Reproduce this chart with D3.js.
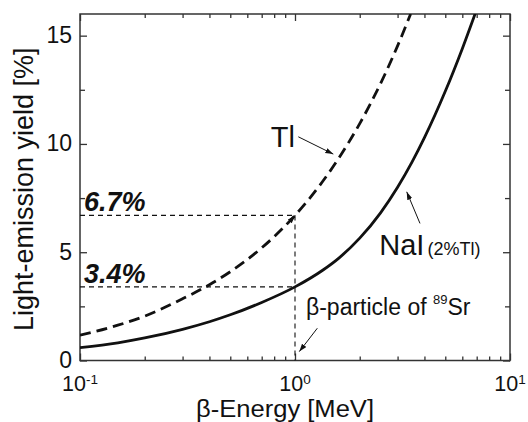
<!DOCTYPE html>
<html><head><meta charset="utf-8">
<script src="https://cdn.jsdelivr.net/npm/d3@7"></script>
<style>
body{margin:0;background:#fff}
svg{display:block}
text{font-family:"Liberation Sans",Arial,Helvetica,sans-serif;fill:#111}
</style>
</head><body>
<svg id="c" width="528" height="422"></svg>
<script>
// ---- data ----
const naiEnergy = [0.1, 0.15, 0.2, 0.3, 0.4, 0.5, 0.7, 1.0, 1.35, 1.6, 2.0, 2.5, 3.0, 3.5, 4.0, 5.0, 6.0, 7.0];
const naiYield  = [0.59, 0.815, 1.04, 1.44, 1.79, 2.11, 2.68, 3.4, 4.18, 4.73, 5.65, 6.82, 8.0, 9.16, 10.29, 12.43, 14.4, 16.21];
const tlEnergy  = [0.1, 0.15, 0.2, 0.3, 0.4, 0.5, 0.7, 1.0, 1.3, 1.6, 2.0, 2.5, 3.0, 3.45];
const tlYield   = [1.17, 1.63, 2.05, 2.85, 3.5, 4.1, 5.2, 6.7, 8.07, 9.35, 10.94, 12.79, 14.53, 16.0];

const xMajorTicks = [0.1, 1, 10];
const xTickExponents = ["-1", "0", "1"];
const xMinorTicks = [0.2,0.3,0.4,0.5,0.6,0.7,0.8,0.9,2,3,4,5,6,7,8,9];
const yMajorTicks = [0, 5, 10, 15];
const yMinorTicks = [2.5, 7.5, 12.5];

const markEnergy = 1.0;
const markYields = [6.7, 3.4];
const markLabels = ["6.7%", "3.4%"];

// annotation anchors in data units [energy, yield]
const tlLabelAt   = [0.771, 9.87];
const naiLabelAt  = [2.466, 4.87];
const betaLabelAt = [1.125, 2.10];
const arrows = [
  [[1.036, 10.33], [1.507, 9.53]],
  [[3.814, 6.33], [3.308, 7.79]],
  [[1.27, 1.49], [1.047, 0.41]],
  [[0.95, 6.45], [1.0, 6.7]]
];

// ---- layout ----
const pL = 80, pR = 510, pT = 14, pB = 360.5;
const svg = d3.select("#c");
const x = d3.scaleLog().domain([0.1, 10]).range([pL, pR]);
const y = d3.scaleLinear().domain([0, 16]).range([pB, pT]);
const ink = "#111", axisInk = "#333";

const defs = svg.append("defs");
defs.append("clipPath").attr("id", "plot")
  .append("rect").attr("x", pL).attr("y", pT).attr("width", pR - pL).attr("height", pB - pT);
defs.append("marker").attr("id", "ah")
  .attr("markerUnits", "userSpaceOnUse")
  .attr("markerWidth", 10).attr("markerHeight", 8)
  .attr("refX", 8).attr("refY", 3).attr("orient", "auto")
  .append("path").attr("d", "M0,0.3 L8,3 L0,5.7 Z").attr("fill", ink);

function styleAxis(g) {
  g.select(".domain").remove();
  g.selectAll(".tick line").attr("stroke", axisInk).attr("stroke-width", 1.3);
}
svg.append("g").attr("transform", `translate(0,${pB})`)
  .call(d3.axisBottom(x).tickValues(xMajorTicks).tickSize(-7).tickFormat("")).call(styleAxis);
svg.append("g").attr("transform", `translate(0,${pB})`)
  .call(d3.axisBottom(x).tickValues(xMinorTicks).tickSize(-4).tickFormat("")).call(styleAxis);
svg.append("g").attr("transform", `translate(0,${pT})`)
  .call(d3.axisTop(x).tickValues(xMajorTicks).tickSize(-7).tickFormat("")).call(styleAxis);
svg.append("g").attr("transform", `translate(0,${pT})`)
  .call(d3.axisTop(x).tickValues(xMinorTicks).tickSize(-4).tickFormat("")).call(styleAxis);

const yAxis = svg.append("g").attr("transform", `translate(${pL},0)`)
  .call(d3.axisLeft(y).tickValues(yMajorTicks).tickSize(-7).tickPadding(8).tickFormat(d3.format("d")))
  .call(styleAxis);
yAxis.selectAll("text").attr("font-size", 23).attr("fill", ink)
  .attr("font-family", '"Liberation Sans",Arial,sans-serif').attr("dy", "0.3em");
svg.append("g").attr("transform", `translate(${pL},0)`)
  .call(d3.axisLeft(y).tickValues(yMinorTicks).tickSize(-5).tickFormat("")).call(styleAxis);
svg.append("g").attr("transform", `translate(${pR},0)`)
  .call(d3.axisRight(y).tickValues(yMajorTicks).tickSize(-7).tickFormat("")).call(styleAxis);
svg.append("g").attr("transform", `translate(${pR},0)`)
  .call(d3.axisRight(y).tickValues(yMinorTicks).tickSize(-5).tickFormat("")).call(styleAxis);

svg.append("rect").attr("x", pL).attr("y", pT).attr("width", pR - pL).attr("height", pB - pT)
  .attr("fill", "none").attr("stroke", axisInk).attr("stroke-width", 1.5);

const xl = svg.append("g");
xMajorTicks.forEach((v, i) => {
  const t = xl.append("text").attr("x", x(v)).attr("y", 391).attr("text-anchor", "middle").attr("font-size", 21.5);
  t.append("tspan").text("10");
  t.append("tspan").attr("font-size", 13.5).attr("dy", -7.5).text(xTickExponents[i]);
});

svg.append("text").attr("x", 285).attr("y", 417).attr("text-anchor", "middle")
  .attr("font-size", 23).attr("textLength", 178).attr("lengthAdjust", "spacingAndGlyphs")
  .text("β-Energy [MeV]");
svg.append("text").attr("transform", `translate(33,${(pT + pB) / 2 + 2}) rotate(-90)`)
  .attr("text-anchor", "middle").attr("font-size", 27).text("Light-emission yield [%]");

const ref = svg.append("g").attr("stroke", ink).attr("stroke-width", 1.1).attr("stroke-dasharray", "5,4").attr("fill", "none");
markYields.forEach(v => {
  ref.append("line").attr("x1", x(0.1)).attr("x2", x(markEnergy)).attr("y1", y(v)).attr("y2", y(v));
});
ref.append("line").attr("x1", x(markEnergy)).attr("x2", x(markEnergy))
  .attr("y1", y(d3.max(markYields))).attr("y2", y(0));

markYields.forEach((v, i) => {
  svg.append("text").attr("x", x(0.1) + 4).attr("y", y(v) - 4)
    .attr("font-size", 27).attr("font-weight", "bold").attr("font-style", "italic")
    .text(markLabels[i]);
});

const line = d3.line().x(d => x(d[0])).y(d => y(d[1])).curve(d3.curveMonotoneX);
const curves = svg.append("g").attr("clip-path", "url(#plot)");
curves.append("path").datum(naiEnergy.map((e, i) => [e, naiYield[i]]))
  .attr("d", line).attr("fill", "none").attr("stroke", ink).attr("stroke-width", 2.8);
curves.append("path").datum(tlEnergy.map((e, i) => [e, tlYield[i]]))
  .attr("d", line).attr("fill", "none").attr("stroke", ink).attr("stroke-width", 2.8)
  .attr("stroke-dasharray", "11,6");

arrows.forEach(a => {
  svg.append("line").attr("x1", x(a[0][0])).attr("y1", y(a[0][1]))
    .attr("x2", x(a[1][0])).attr("y2", y(a[1][1]))
    .attr("stroke", ink).attr("stroke-width", 1).attr("marker-end", "url(#ah)");
});

svg.append("text").attr("x", x(tlLabelAt[0])).attr("y", y(tlLabelAt[1])).attr("font-size", 29).text("Tl");
const nai = svg.append("text").attr("x", x(naiLabelAt[0])).attr("y", y(naiLabelAt[1])).attr("font-size", 29);
nai.append("tspan").text("NaI");
nai.append("tspan").attr("font-size", 18).attr("dx", 3).text("(2%Tl)");
const beta = svg.append("text").attr("x", x(betaLabelAt[0])).attr("y", y(betaLabelAt[1])).attr("font-size", 23);
beta.append("tspan").text("β-particle of ");
beta.append("tspan").attr("font-size", 13).attr("dy", -11).text("89");
beta.append("tspan").attr("dy", 11).text("Sr");
</script>
</body></html>
